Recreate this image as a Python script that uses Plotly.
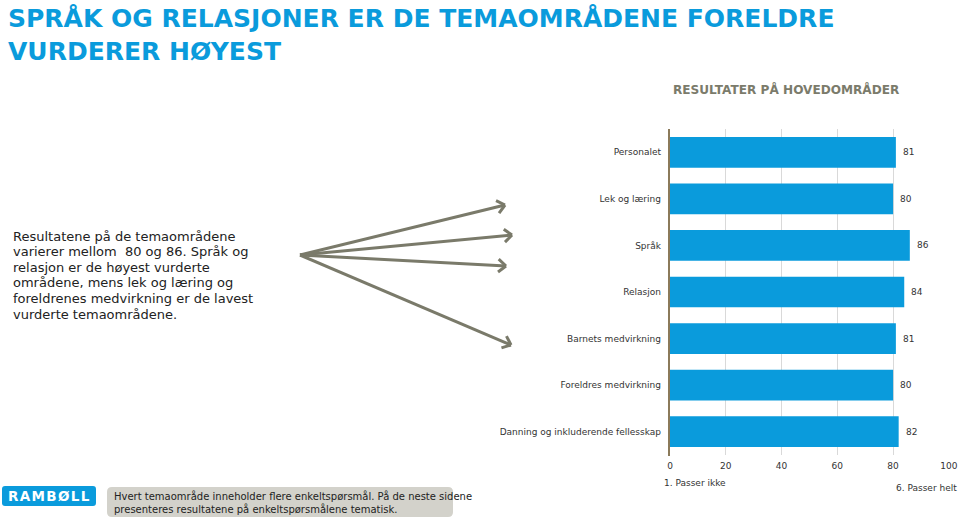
import math
import plotly.graph_objects as go

categories = ["Personalet", "Lek og læring", "Språk", "Relasjon", "Barnets medvirkning",
              "Foreldres medvirkning", "Danning og inkluderende fellesskap"]
values = [81, 80, 86, 84, 81, 80, 82]
tick_vals = [0, 20, 40, 60, 80, 100]

W, H = 959, 518
BLUE = "#0a9bdc"
GREY = "#7a7a6a"
FONT = "DejaVu Sans"

def px(x):
    return x / W

def py(y):
    return 1 - y / H

fig = go.Figure()
fig.add_trace(go.Bar(
    x=values, y=categories, orientation="h",
    marker=dict(color=BLUE, line=dict(width=0)),
    width=0.66, hoverinfo="skip",
))

annotations = []
for c, v in zip(categories, values):
    annotations.append(dict(x=v, y=c, xref="x", yref="y", text=str(v), showarrow=False,
                            xanchor="left", xshift=5, font=dict(family=FONT, size=9, color="#333333")))

body_lines = ["Resultatene på de temaområdene",
              "varierer mellom  80 og 86. Språk og",
              "relasjon er de høyest vurderte",
              "områdene, mens lek og læring og",
              "foreldrenes medvirkning er de lavest",
              "vurderte temaområdene."]
for i, line in enumerate(body_lines):
    annotations.append(dict(x=px(11), y=py(236 + i * 15.6), xref="paper", yref="paper", xanchor="left",
                            yanchor="middle", showarrow=False, text=line,
                            font=dict(family=FONT, size=13, color="#222222")))

annotations += [
    dict(x=px(6), y=py(2), xref="paper", yref="paper", xanchor="left", yanchor="top", showarrow=False,
         align="left",
         text="<b>SPRÅK OG RELASJONER ER DE TEMAOMRÅDENE FORELDRE<br>VURDERER HØYEST</b>",
         font=dict(family=FONT, size=25, color="#0a9bdc")),
    dict(x=px(786), y=py(89), xref="paper", yref="paper", xanchor="center", yanchor="middle", showarrow=False,
         text="<b>RESULTATER PÅ HOVEDOMRÅDER</b>", font=dict(family=FONT, size=12.1, color="#7b7b6b")),
    dict(x=px(662), y=py(483), xref="paper", yref="paper", xanchor="left", yanchor="middle", showarrow=False,
         text="1. Passer ikke", font=dict(family=FONT, size=9, color="#333333")),
    dict(x=px(959), y=py(488), xref="paper", yref="paper", xanchor="right", yanchor="middle", showarrow=False,
         text="6. Passer helt", font=dict(family=FONT, size=9, color="#333333")),
    dict(x=px(49), y=py(496), xref="paper", yref="paper", xanchor="center", yanchor="middle", showarrow=False,
         text="<b>R\u200aA\u200aM\u200aB\u200aØ\u200aL\u200aL</b>", font=dict(family=FONT, size=13.5, color="white")),
    dict(x=px(112), y=py(502), xref="paper", yref="paper", xanchor="left", yanchor="middle", showarrow=False,
         align="left",
         text="Hvert temaområde inneholder flere enkeltspørsmål. På de neste sidene<br>presenteres resultatene på enkeltspørsmålene tematisk.",
         font=dict(family=FONT, size=10, color="#222222")),
]

def rounded_rect(x0, y0, x1, y1, r):
    X = lambda v: f"{px(v):.5f}"
    Y = lambda v: f"{py(v):.5f}"
    return (f"M {X(x0 + r)},{Y(y0)} L {X(x1 - r)},{Y(y0)} Q {X(x1)},{Y(y0)} {X(x1)},{Y(y0 + r)} "
            f"L {X(x1)},{Y(y1 - r)} Q {X(x1)},{Y(y1)} {X(x1 - r)},{Y(y1)} "
            f"L {X(x0 + r)},{Y(y1)} Q {X(x0)},{Y(y1)} {X(x0)},{Y(y1 - r)} "
            f"L {X(x0)},{Y(y0 + r)} Q {X(x0)},{Y(y0)} {X(x0 + r)},{Y(y0)} Z")

shapes = [
    dict(type="path", xref="paper", yref="paper", path=rounded_rect(2, 486, 96, 506, 3),
         fillcolor=BLUE, line=dict(width=0), layer="below"),
    dict(type="path", xref="paper", yref="paper", path=rounded_rect(107, 487, 453, 517, 5),
         fillcolor="#d3d2cb", line=dict(width=0), layer="below"),
    dict(type="line", xref="paper", yref="paper", x0=px(669), x1=px(669), y0=py(129), y1=py(456),
         line=dict(color="#8b7a5a", width=2)),
]

# Arrows (decorative)
origin = (300, 255)
tips = [(505, 205), (512, 235), (506, 266), (511, 345)]
for tx, ty in tips:
    shapes.append(dict(type="line", xref="paper", yref="paper", x0=px(origin[0]), y0=py(origin[1]),
                       x1=px(tx), y1=py(ty), line=dict(color=GREY, width=3)))
    ang = math.atan2(ty - origin[1], tx - origin[0])
    L = 10
    for d in (math.radians(40), -math.radians(40)):
        hx = tx - L * math.cos(ang + d)
        hy = ty - L * math.sin(ang + d)
        shapes.append(dict(type="line", xref="paper", yref="paper", x0=px(tx), y0=py(ty),
                           x1=px(hx), y1=py(hy), line=dict(color=GREY, width=3)))

fig.update_layout(
    width=W, height=H, margin=dict(l=0, r=0, t=0, b=0, pad=0),
    paper_bgcolor="white", plot_bgcolor="white", showlegend=False,
    annotations=annotations, shapes=shapes,
    xaxis=dict(domain=[px(670), px(949)], range=[0, 100.05], tickvals=tick_vals, automargin=False,
               showgrid=True, gridcolor="#d9d9d9", gridwidth=1, zeroline=False, showline=False,
               ticks="", ticklabelstandoff=4, tickfont=dict(family=FONT, size=9, color="#333333")),
    yaxis=dict(domain=[py(455), py(129)], autorange="reversed", showgrid=False, zeroline=False,
               showline=False, ticks="", ticklabelstandoff=8, automargin=False,
               tickfont=dict(family=FONT, size=9, color="#333333")),
)

fig.write_html("out.html")
